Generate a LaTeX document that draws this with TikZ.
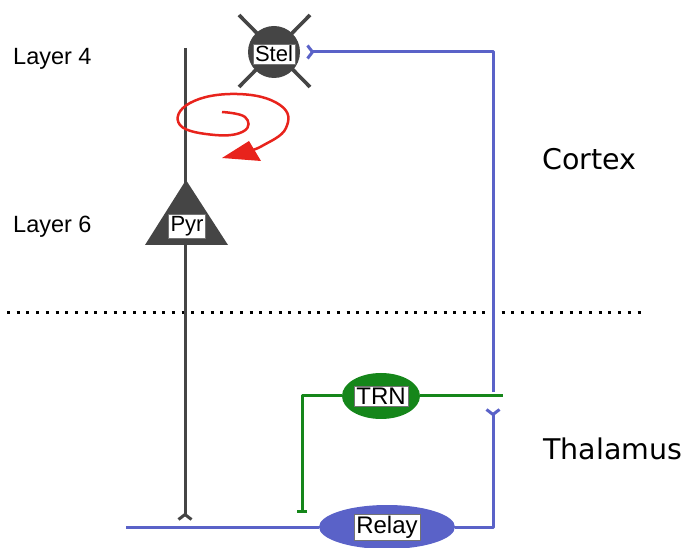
\documentclass[tikz,border=0pt]{standalone}
\usepackage{fontspec}
\setmainfont{Liberation Sans}
\newfontfamily\dejavu{DejaVu Sans}
\usetikzlibrary{shapes.geometric,arrows.meta,calc}

\definecolor{cellgray}{HTML}{454545}
\definecolor{relayblue}{HTML}{5A62C8}
\definecolor{trngreen}{HTML}{15861A}
\definecolor{loopred}{HTML}{E8231C}

\tikzset{
  grayaxon/.style={draw=cellgray, line width=3pt},
  blueaxon/.style={draw=relayblue, line width=3pt},
  greenaxon/.style={draw=trngreen, line width=3pt},
  dendrite/.style={draw=cellgray, line width=3.6pt},
  synfork/.style={-{Straight Barb[reversed, length=5pt, width=13pt]}},
  tag/.style={fill=white, draw=black!55, line width=0.4pt, inner sep=2pt,
              font=\fontsize{22}{24}\selectfont},
  bigtag/.style={tag, font=\fontsize{24}{26}\selectfont, inner xsep=2.5pt},
  layerlabel/.style={anchor=base west, inner sep=0pt, font=\fontsize{23.5}{27}\selectfont},
  regionlabel/.style={anchor=base west, inner sep=0pt, font=\dejavu\fontsize{28.5}{32}\selectfont},
}

\begin{document}
\begin{tikzpicture}[x=1pt, y=-1pt]
\useasboundingbox (0,0) rectangle (689,548);

% layer and region labels
\node[layerlabel] (l4) at (13,65) {Layer 4};
\node[layerlabel] (l6) at (13,233) {Layer 6};
\node[regionlabel] (ctx) at (542,170) {Cortex};
\node[regionlabel] (thal) at (543,460) {Thalamus};

% cortex / thalamus border
\draw[line width=3pt, dash pattern=on 3pt off 6.7pt] (7,313) -- (642,313);

% pyramidal cell apical and descending axon
\coordinate (pyrtop) at (185,48);
\coordinate (pyrend) at (185,521);
\draw[grayaxon, synfork] (pyrtop) -- (pyrend);

% pyramidal soma
\fill[cellgray] (186,180) -- (228,245) -- (145,245) -- cycle;
\coordinate (pyr) at (187,226);
\node[tag] (pyrtag) at (pyr) {Pyr};

% stellate cell with its dendrites
\coordinate (stel) at (274,52);
\draw[dendrite] ($(stel)+(-35,-37)$) -- ($(stel)+(36,35)$);
\draw[dendrite] ($(stel)+(36,-37)$) -- ($(stel)+(-35,35)$);
\node[circle, fill=cellgray, minimum size=52pt, inner sep=0pt] (stelbody) at (stel) {};
\node[tag] (steltag) at ($(stel)+(0,2)$) {Stel};

% reverberating loop
\draw[loopred, line width=2.5pt] plot[smooth, tension=0.75] coordinates
  {(222,112) (245,117) (244,131) (215,135) (180,125) (190,103) (237,94)
   (280,105) (286,128) (262,146) (247,151)};
\fill[loopred] (222,158) -- (249,141) -- (261,161) -- cycle;

% thalamic nuclei
\node[ellipse, fill=trngreen, minimum width=78pt, minimum height=46pt, inner sep=0pt] (trn) at (381,396) {};
\node[bigtag] (trntag) at (trn) {TRN};
\node[ellipse, fill=relayblue, minimum width=136pt, minimum height=44pt, inner sep=0pt] (relay) at (387,527) {};
\node[bigtag] (relaytag) at (relay) {Relay};

% relay projections
\coordinate (rcorner) at (493,527);
\coordinate (rcol) at (493,408);
\coordinate (rup) at (493,392);
\coordinate (stelsyn) at (306,52);
\coordinate (rin) at (126,527);
\draw[blueaxon] (rin) -- (relay.west);
\draw[blueaxon, synfork, line join=round] (relay.east) -- (rcorner) -- (rcol);
\draw[blueaxon, synfork, line join=round] (rup) |- (stelsyn);

% reticular projections
\coordinate (trnend) at (503,396);
\coordinate (trninh) at (302,513);
\draw[greenaxon] (trn.east) -- (trnend);
\draw[greenaxon, -{Bar[width=10pt]}, line join=round] (trn.west) -| (trninh);
\end{tikzpicture}
\end{document}
